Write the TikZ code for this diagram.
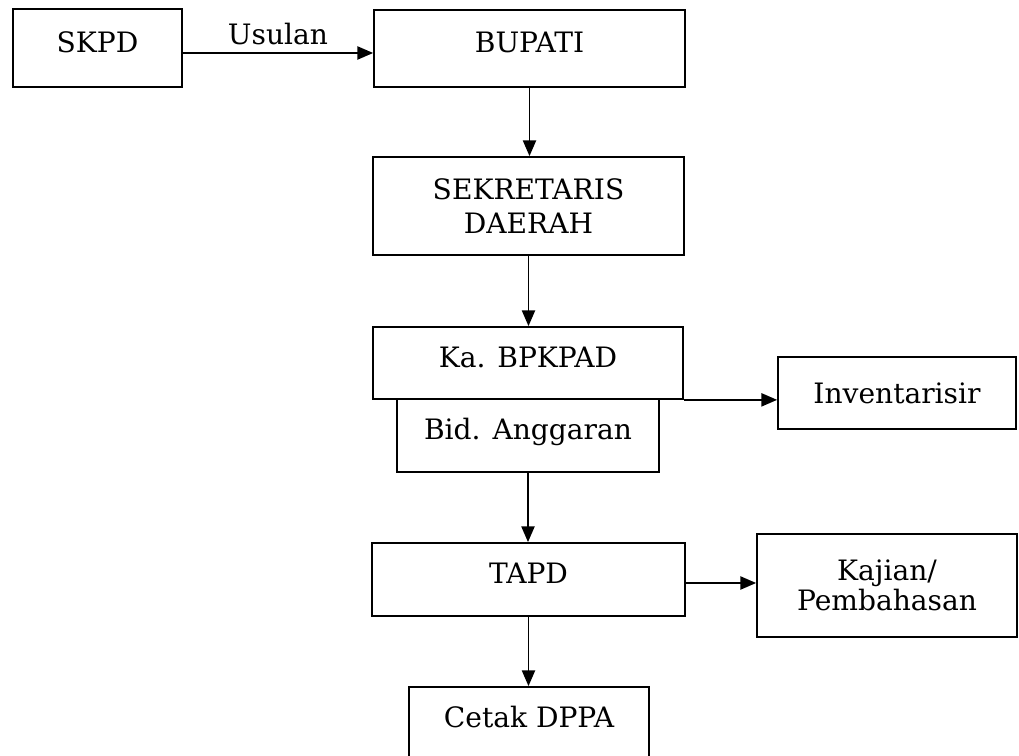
\documentclass[tikz,border=0pt]{standalone}
\usepackage{fontspec}
\setmainfont{DejaVu Serif}
\usetikzlibrary{arrows.meta}

\begin{document}
\begin{tikzpicture}
    [x=0.02cm, y=-0.02cm,
     Box/.style={rectangle, draw=black, line width=1pt, align=center, inner sep=0pt,
                 font=\fontsize{16}{15.5}\selectfont},
     TopBox/.style={Box, text height=11.7pt, text depth=6.9pt},
     Arr/.style={-{Triangle[length=9pt, width=7.5pt]}, line width=1pt},
     Lbl/.style={font=\fontsize{16}{15.5}\selectfont}]
	\useasboundingbox (0, 0) rectangle (1019, 756);
	% boxes
	\node[TopBox, minimum width=3.38cm, minimum height=1.56cm] (SKPD) at (97.5, 48) {SKPD};
	\node[TopBox, minimum width=6.22cm, minimum height=1.54cm] (Bupati) at (529.5, 48.5) {BUPATI};
	\node[Box, minimum width=6.22cm, minimum height=1.96cm] (Sekda) at (528.5, 206) {SEKRETARIS\\[4.3pt]DAERAH};
	\node[TopBox, minimum width=6.2cm, minimum height=1.44cm] (KaBPKPAD) at (528, 363) {Ka. BPKPAD};
	\node[TopBox, minimum width=5.24cm, minimum height=1.46cm] (BidAng) at (528, 435.5) {Bid. Anggaran};
	\node[Box, minimum width=4.76cm, minimum height=1.44cm] (Inv) at (897, 393) {Inventarisir};
	\node[TopBox, minimum width=6.26cm, minimum height=1.46cm] (TAPD) at (528.5, 579.5) {TAPD};
	\node[Box, minimum width=5.2cm, minimum height=2.06cm] (Kajian) at (887, 585.5) {Kajian/\\Pembahasan};
	\node[TopBox, minimum width=4.8cm, minimum height=1.44cm] (Cetak) at (529, 723) {Cetak DPPA};
	% arrows
	\coordinate (SKPDout) at ([yshift=-0.1cm]SKPD.east);
	\draw[Arr] (SKPDout) -- (SKPDout -| Bupati.west) node[Lbl, midway, above=1pt] {Usulan};
	\draw[Arr] (Bupati.south) -- (Bupati.south |- Sekda.north);
	\draw[Arr] (Sekda.south) -- (Sekda.south |- KaBPKPAD.north);
	\draw[Arr] (KaBPKPAD.south east) -- (KaBPKPAD.south east -| Inv.west);
	\draw[Arr] (BidAng.south) -- (BidAng.south |- TAPD.north);
	\coordinate (TAPDout) at ([yshift=-0.07cm]TAPD.east);
	\draw[Arr] (TAPDout) -- (TAPDout -| Kajian.west);
	\draw[Arr] (TAPD.south) -- (TAPD.south |- Cetak.north);
\end{tikzpicture}
\end{document}
